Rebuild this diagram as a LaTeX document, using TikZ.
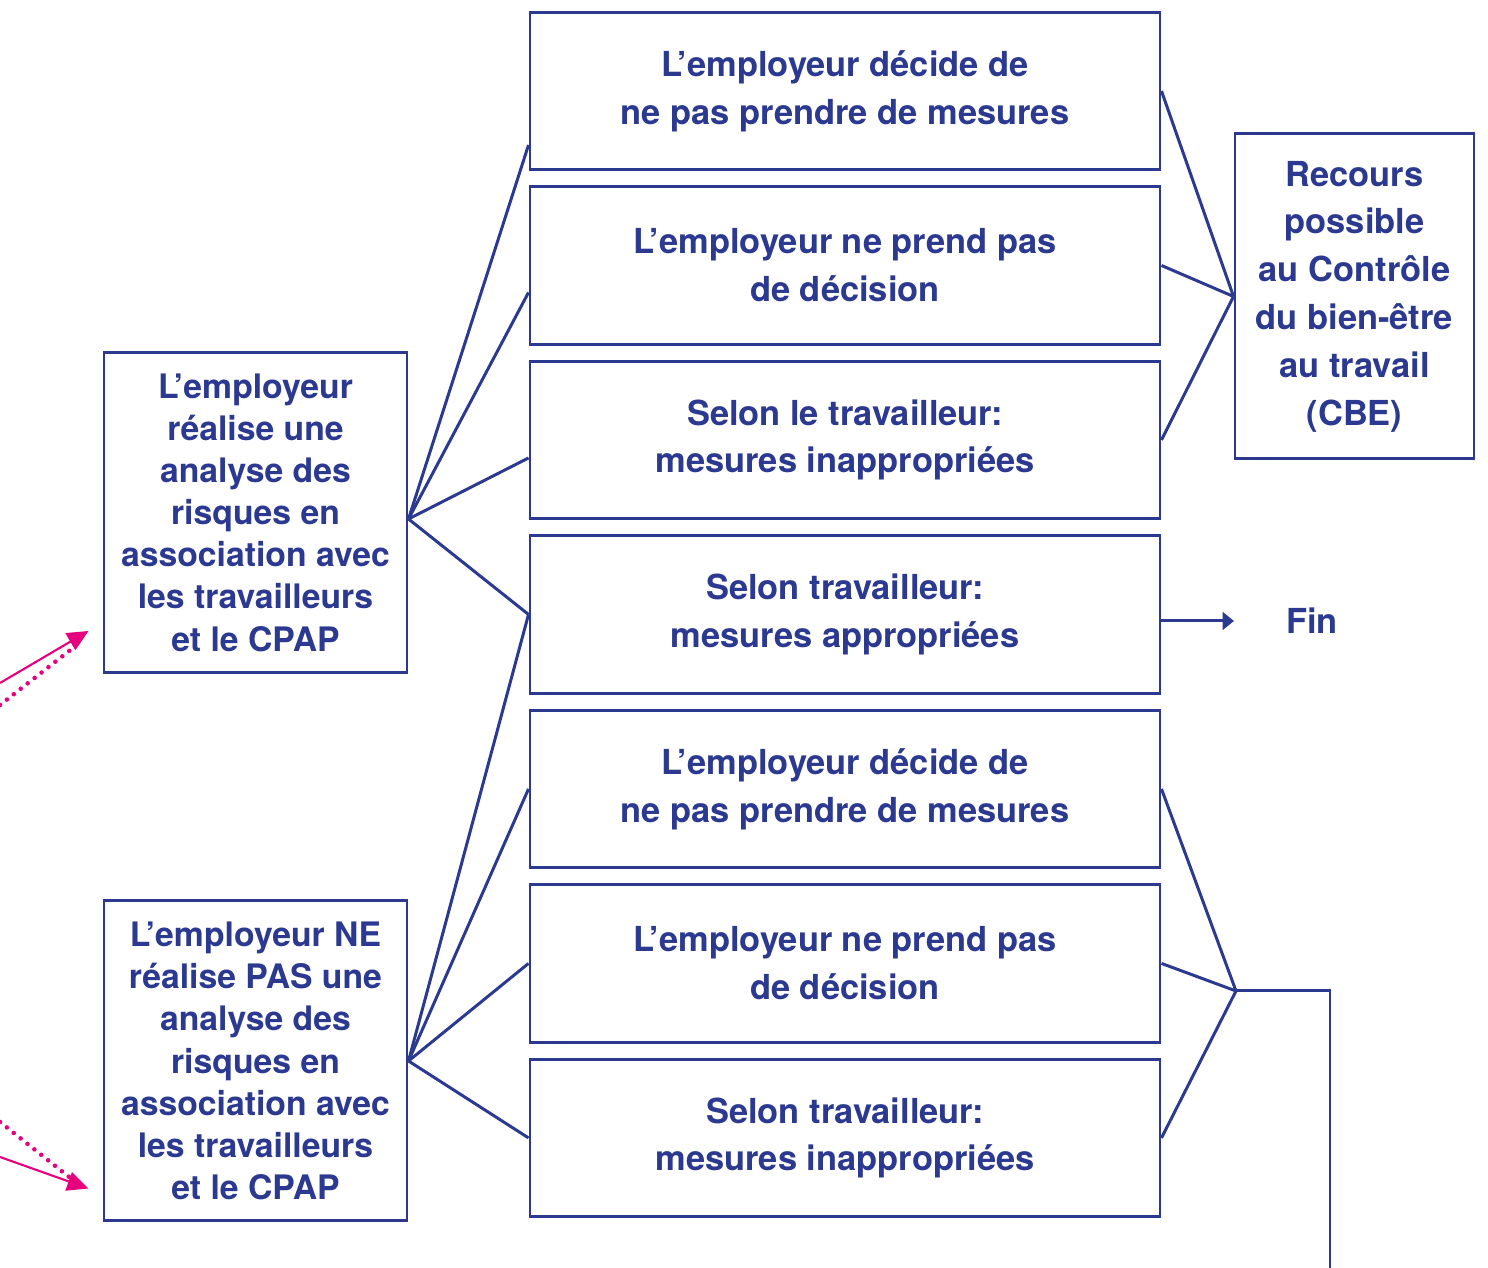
\documentclass[tikz,border=0pt]{standalone}
\usepackage{fontspec}
\setmainfont{TeX Gyre Heros}
\usetikzlibrary{positioning, calc, chains, arrows.meta}
\definecolor{bleu}{RGB}{43,57,144}
\definecolor{rose}{RGB}{230,0,126}

\begin{document}
\begin{tikzpicture}[color=bleu]
		\tikzstyle{every path}=[line width=0.85pt]
		
		\tikzstyle{etape}=[draw,align=center,minimum width=6.3cm,minimum height=1.575cm,
		font=\fontsize{9.8pt}{13.6pt}\selectfont\bfseries]
		\tikzstyle{cas}=[draw,align=center,minimum width=3.03cm,minimum height=3.2cm,
		font=\fontsize{9.6pt}{12pt}\selectfont\bfseries]
		\tikzstyle{fleche}=[-{Triangle[length=3.2pt,width=5pt]}]
		\tikzstyle{flecherose}=[rose,line width=0.6pt,-{Triangle[length=6pt,width=5.5pt]}]
		\tikzstyle{pointille}=[rose,line width=1.3pt,line cap=round,dash pattern=on 0pt off 2.5pt]
		
		\useasboundingbox (0,0) rectangle (14.88,-12.68);
		
		%% Colonne des decisions
		\begin{scope}[start chain=mid going below,node distance=0.14cm]
			\node [on chain=mid,etape] (decide1) at (8.45,-0.91) {L’employeur décide de\\ne pas prendre de mesures};
			\node [on chain=mid,etape] (noprend1) {L’employeur ne prend pas\\de décision};
			\node [on chain=mid,etape] (inappr1) {Selon le travailleur:\\mesures inappropriées};
			\node [on chain=mid,etape] (appr) {Selon travailleur:\\mesures appropriées};
			\node [on chain=mid,etape] (decide2) {L’employeur décide de\\ne pas prendre de mesures};
			\node [on chain=mid,etape] (noprend2) {L’employeur ne prend pas\\de décision};
			\node [on chain=mid,etape] (inappr2) {Selon travailleur:\\mesures inappropriées};
		\end{scope}
		
		%% Les deux cas de depart
		\node [cas] (analyse) at (2.555,-5.125) {L’employeur\\réalise une\\analyse des\\risques en\\association avec\\les travailleurs\\et le CPAP};
		\node [cas] (sansanalyse) at (2.555,-10.61) {L’employeur NE\\réalise PAS une\\analyse des\\risques en\\association avec\\les travailleurs\\et le CPAP};
		
		\coordinate (depart1) at ([yshift=-0.065cm]analyse.east);
		\foreach \b/\d in {decide1/-0.54, noprend1/-0.27, inappr1/-0.18, appr/0}
		\draw (depart1) -- ([yshift=\d cm]\b.west);
		\foreach \b in {appr, decide2, noprend2, inappr2}
		\draw (sansanalyse.east) -- (\b.west);
		
		%% Recours
		\node [draw,align=center,minimum width=2.39cm,minimum height=3.25cm,
		font=\fontsize{9.8pt}{13.6pt}\selectfont\bfseries] (recours) at (13.545,-2.965)
		{Recours\\possible\\au Contrôle\\du bien-être\\au travail\\(CBE)};
		\foreach \b in {decide1, noprend1, inappr1}
		\draw (\b.east) -- (recours.west);
		
		%% Fin
		\node [font=\fontsize{9.8pt}{12pt}\selectfont\bfseries] (fin) at (13.12,-6.21) {Fin};
		\draw [fleche] (appr.east |- fin.west) -- ([xshift=-0.39cm]fin.west);
		
		%% Suite vers le bas
		\coordinate (jonction) at (12.36,-9.91);
		\coordinate (sortie) at (13.30,-12.70);
		\foreach \b in {decide2, noprend2, inappr2}
		\draw (\b.east) -- (jonction);
		\draw (jonction) -| (sortie);
		
		%% Fleches roses venant de la gauche
		\coordinate (rose1) at (0,-6.83);
		\coordinate (rose2) at (0,-7.05);
		\coordinate (rose3) at (0,-11.22);
		\coordinate (rose4) at (0,-11.57);
		\draw [flecherose] (rose1) -- ([xshift=-0.14cm,yshift=0.43cm]analyse.south west);
		\draw [pointille] (rose2) -- ([xshift=-0.27cm,yshift=0.28cm]analyse.south west);
		\draw [pointille] (rose3) -- ([xshift=-0.29cm,yshift=0.42cm]sansanalyse.south west);
		\draw [flecherose] (rose4) -- ([xshift=-0.14cm,yshift=0.34cm]sansanalyse.south west);
		
	\end{tikzpicture}
\end{document}
